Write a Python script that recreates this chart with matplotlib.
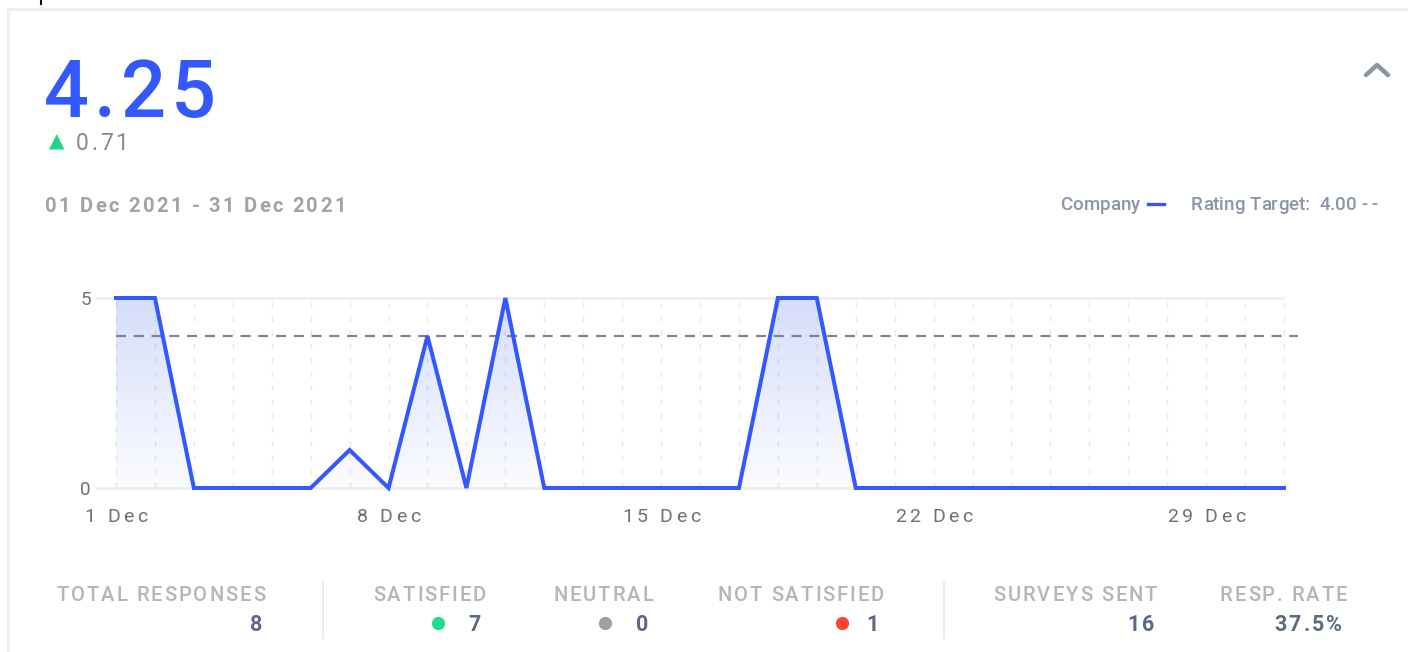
import matplotlib
matplotlib.use("Agg")
import matplotlib.pyplot as plt
import numpy as np
from matplotlib.lines import Line2D
from matplotlib.patches import Polygon
from matplotlib.transforms import IdentityTransform
from matplotlib.font_manager import findfont, FontProperties
from matplotlib.ft2font import FT2Font

plt.rcParams["font.family"] = ["Roboto", "DejaVu Sans"]

# data
days = list(range(1, 32))
ratings = [5, 5, 0, 0, 0, 0, 1, 0, 4, 0, 5, 0, 0, 0, 0, 0, 0, 5, 5, 0,
           0, 0, 0, 0, 0, 0, 0, 0, 0, 0, 0]
rating_target = 4.0
tick_days = [1, 8, 15, 22, 29]
tick_labels = ["1 Dec", "8 Dec", "15 Dec", "22 Dec", "29 Dec"]

score = "4.25"
delta = "0.71"
period = "01 Dec 2021 - 31 Dec 2021"

stat_labels = ["TOTAL RESPONSES", "SATISFIED", "NEUTRAL", "NOT SATISFIED",
               "SURVEYS SENT", "RESP. RATE"]
stat_values = ["8", "7", "0", "1", "16", "37.5%"]
stat_dots = [None, "#22dc8c", "#9aa1a9", "#ff4433", None, None]

W, H = 1412, 652
BLUE = "#3358ff"
DPI = 100


def fx(x):
    return x / W


def fy(y):
    return 1 - y / H


fig = plt.figure(figsize=(W / DPI, H / DPI), dpi=DPI)
fig.patch.set_facecolor("white")


def advances(s, size, weight):
    fp = FontProperties(family="Roboto", weight=weight, size=size)
    font = FT2Font(findfont(fp))
    font.set_size(size, DPI)
    out = []
    for c in s:
        g = font.load_char(ord(c))
        out.append(g.linearHoriAdvance / 65536)
    return out


def spaced(x, y, s, size, spacing=0.0, weight="normal", ha="left", **kw):
    """Letter-spaced text; x, y in pixels (top origin), y is the baseline."""
    adv = advances(s, size, weight)
    total = sum(adv) + spacing * (len(s) - 1)
    if ha == "right":
        x0 = x - total
    elif ha == "center":
        x0 = x - total / 2
    else:
        x0 = x
    pen = x0
    for c, a in zip(s, adv):
        if c != " ":
            fig.text(pen, H - y, c, fontsize=size, fontweight=weight,
                     ha="left", va="baseline", transform=IdentityTransform(), **kw)
        pen += a + spacing
    return x0, x0 + total


# card border (and the cut-off mark above it)
card = "#eceefa"
fig.add_artist(Line2D([fx(8), fx(1406)], [fy(8.5), fy(8.5)], color=card, lw=2.2))
fig.add_artist(Line2D([fx(8), fx(8)], [fy(8.5), fy(652)], color=card, lw=2.2))
fig.add_artist(Line2D([fx(40.5), fx(40.5)], [fy(0), fy(4)], color="#111111", lw=1.5))

# header
spaced(44, 117, score, 57, spacing=5, weight="medium", color=BLUE)
fig.text(fx(49), fy(148), "\u25b2", color="#22d38a", fontsize=14.5,
         family="DejaVu Sans", ha="left", va="baseline")
spaced(76, 150, delta, 16.5, spacing=2.5, color="#858b95")
spaced(45, 212, period, 14.5, spacing=2.3, weight="bold", color="#a3a3a6")

# chevron
fig.add_artist(Line2D([fx(1366), fx(1377), fx(1388)], [fy(75), fy(65), fy(75)],
                      color="#8b95a1", lw=3.2, solid_capstyle="round",
                      solid_joinstyle="round"))

# legend
leg_col = "#8a95a8"
spaced(1140, 210, "Company", 13.5, weight="medium", ha="right", color=leg_col)
fig.add_artist(Line2D([fx(1148), fx(1164)], [fy(204), fy(204)], color=BLUE, lw=2.4))
spaced(1191, 210, "Rating Target:  %.2f - -" % rating_target, 13.5,
       weight="medium", color=leg_col)

# chart
ax = fig.add_axes([fx(95), fy(488), fx(1298) - fx(95), fy(298) - fy(488)])
ax.set_xlim(0.46, 31.36)
ax.set_ylim(0, 5)
for s in ax.spines.values():
    s.set_visible(False)

ax.hlines([0, 5], 0.46, 31, color="#eeeeee", lw=1.8, zorder=1, clip_on=False)
ax.vlines(days, 0, 5, color="#e9e9e9", lw=1, linestyles=(0, (4, 6)), zorder=1)

# gradient fill under the line
poly_x = [days[0]] + days + [days[-1]]
poly_y = [0] + ratings + [0]
patch = Polygon(np.column_stack([poly_x, poly_y]), closed=True,
                facecolor="none", edgecolor="none")
ax.add_patch(patch)
grad = np.zeros((100, 2, 4))
grad[..., 0] = 0.25
grad[..., 1] = 0.40
grad[..., 2] = 0.92
grad[..., 3] = np.linspace(0.22, 0.02, 100)[:, None]
img = ax.imshow(grad, extent=[0.46, 31.36, 0, 5], aspect="auto",
                origin="upper", zorder=2)
img.set_clip_path(patch)

ax.hlines(rating_target, days[0], 31.36, color="#7d8590", lw=1.6,
          linestyles=(0, (4.5, 3.5)), zorder=3)
ax.plot(days, ratings, color=BLUE, lw=2.9, zorder=4, clip_on=False,
        solid_joinstyle="miter")

ax.set_yticks([0, 5])
ax.set_xticks([])
ax.tick_params(axis="y", length=0, pad=3, labelsize=13.5, labelcolor="#6b7079")

# x tick labels, letter spaced like the original
for d, lab in zip(tick_days, tick_labels):
    px = ax.transData.transform((d, 0))[0]
    spaced(px, 522, lab, 14, spacing=3.5, ha="center", color="#6b7079")

# stats row
stat_right = [262, 481, 648, 879, 1154, 1342]
lab_right = [265, 486, 653, 884, 1157, 1347]
dot_x = [None, 438, 605, 842, None, None]
for lab, val, dot, dx, xr, lr in zip(stat_labels, stat_values, stat_dots,
                                     dot_x, stat_right, lab_right):
    spaced(lr, 601, lab, 14.5, spacing=2.0, weight="medium", ha="right",
           color="#b3b6bc")
    spaced(xr, 631, val, 15.5, spacing=2.2, weight="bold", ha="right",
           color="#5b6a82")
    if dot:
        fig.add_artist(Line2D([fx(dx)], [fy(623)], marker="o", markersize=8.5,
                              color=dot, lw=0))

for sx in [323, 944]:
    fig.add_artist(Line2D([fx(sx), fx(sx)], [fy(582), fy(638)], color="#e8eaf6", lw=1.5))

fig.savefig("out.png", dpi=DPI, facecolor="white")
